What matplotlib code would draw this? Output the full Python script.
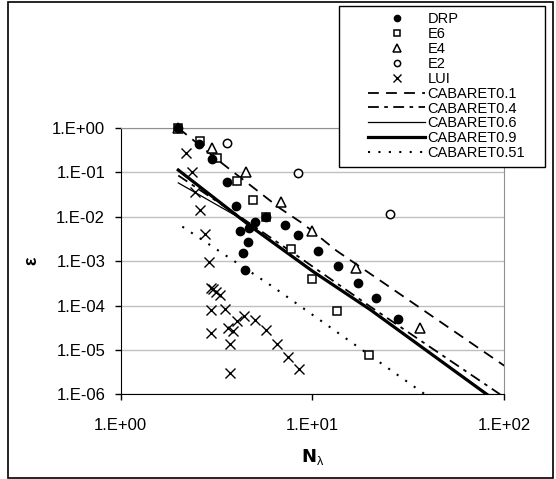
import matplotlib
matplotlib.use("Agg")
import matplotlib.pyplot as plt
from matplotlib.patches import Rectangle
from matplotlib.lines import Line2D
from matplotlib.ticker import FixedLocator, FuncFormatter, NullLocator
import numpy as np

plt.rcParams['font.family'] = ['Liberation Sans', 'DejaVu Sans']

# measured points
drp_x = [2.0, 2.55, 3.0, 3.6, 4.0, 4.2, 4.35, 4.45, 4.6, 4.7, 5.0, 5.7, 7.2, 8.4, 10.7, 13.6, 17.2, 21.4, 28.0]
drp_y = [1.0, 0.44, 0.2, 0.062, 0.0175, 0.0048, 0.0015, 0.00063, 0.0027, 0.0055, 0.0078, 0.0097, 0.0065, 0.0039,
         0.0017, 7.8e-4, 3.3e-4, 1.45e-4, 4.9e-5]
e6_x = [2.0, 2.6, 3.2, 4.05, 4.9, 5.7, 7.7, 10.0, 13.4, 19.7]
e6_y = [1.0, 0.52, 0.21, 0.065, 0.024, 0.0097, 0.0019, 4.0e-4, 7.7e-5, 7.7e-6]
e4_x = [2.0, 3.0, 4.5, 6.9, 10.0, 16.8, 36.4]
e4_y = [1.0, 0.35, 0.1, 0.021, 0.0048, 6.9e-4, 3.1e-5]
e2_x = [3.6, 8.4, 25.4]
e2_y = [0.45, 0.095, 0.0114]
lui_x = [2.2, 2.35, 2.45, 2.6, 2.75, 2.9, 2.96, 3.05, 3.15, 3.3, 2.97, 3.5, 2.97, 3.65, 3.88, 3.7, 4.03, 4.38,
         5.02, 5.72, 6.55, 7.5, 8.5, 3.72]
lui_y = [0.28, 0.1, 0.037, 0.014, 0.004, 9.5e-4, 2.5e-4, 2.3e-4, 2.0e-4, 1.75e-4, 8e-5, 8.3e-5, 2.45e-5, 3.1e-5,
         2.7e-5, 1.37e-5, 4.4e-5, 5.8e-5, 4.7e-5, 2.75e-5, 1.37e-5, 7.1e-6, 3.7e-6, 3.0e-6]

# CABARET curves
c01_x = [2.0, 3.3, 4.73, 6.78, 8.97, 13.4, 24.4, 100.0]
c01_y = [1.0, 0.174, 0.052, 0.0155, 0.0069, 0.0017, 2.9e-4, 4.4e-6]
c04_x = [2.0, 4.55, 8.6, 20.0, 95.0]
c04_y = [0.085, 0.0079, 0.0012, 9.5e-5, 1e-6]
c06_x = [2.0, 4.0, 10.0, 20.0, 82.0]
c06_y = [0.058, 0.0105, 6.0e-4, 8.0e-5, 1e-6]
c09_x = [2.0, 4.92, 10.1, 20.0, 81.0]
c09_y = [0.113, 0.0055, 5.8e-4, 8.1e-5, 1e-6]
c051_x = [2.1, 6.26, 38.6]
c051_y = [0.006, 2.6e-4, 1e-6]

fig = plt.figure(figsize=(5.56, 4.79), dpi=100)
ax = fig.add_axes([120.5 / 556, 1 - 394.3 / 479, (504.3 - 120.5) / 556, (394.3 - 128) / 479])

# name: (x, y, style kwargs)
curves = {
    'CABARET0.1': (c01_x, c01_y, dict(lw=1.3, dashes=(6, 4))),
    'CABARET0.4': (c04_x, c04_y, dict(lw=1.3, dashes=(6, 3, 2, 3))),
    'CABARET0.6': (c06_x, c06_y, dict(lw=0.9)),
    'CABARET0.9': (c09_x, c09_y, dict(lw=2.3)),
    'CABARET0.51': (c051_x, c051_y, dict(lw=1.5, dashes=(1, 4))),
}
points = {
    'DRP': (drp_x, drp_y, dict(marker='o', mfc='black', ms=6)),
    'E6': (e6_x, e6_y, dict(marker='s', mfc='white', mew=1.1, ms=6)),
    'E4': (e4_x, e4_y, dict(marker='^', mfc='white', mew=1.1, ms=7)),
    'E2': (e2_x, e2_y, dict(marker='o', mfc='white', mew=1.1, ms=6)),
    'LUI': (lui_x, lui_y, dict(marker='x', mew=1.0, ms=7)),
}

for name, (x, y, kw) in curves.items():
    ax.plot(x, y, color='black', **kw)
for name, (x, y, kw) in points.items():
    z = 4 if name == 'DRP' else 3
    ax.plot(x, y, ls='none', color='black', mec='black', clip_on=False, zorder=z, **kw)

ax.set_xscale('log')
ax.set_yscale('log')
ax.set_xlim(1, 100)
ax.set_ylim(1e-6, 1)

fmt = FuncFormatter(lambda v, _: "1.E%+03d" % int(round(np.log10(v))))
ax.xaxis.set_major_locator(FixedLocator([1, 10, 100]))
ax.yaxis.set_major_locator(FixedLocator([10.0 ** k for k in range(-6, 1)]))
ax.xaxis.set_minor_locator(NullLocator())
ax.yaxis.set_minor_locator(NullLocator())
ax.xaxis.set_major_formatter(fmt)
ax.yaxis.set_major_formatter(fmt)
ax.tick_params(axis='y', direction='out', length=4, width=1, pad=7, labelsize=12)
ax.tick_params(axis='x', direction='out', length=4, width=1, pad=13, labelsize=12)

ax.grid(axis='y', color='#c0c0c0', lw=1)
ax.set_axisbelow(True)
for s in ['top', 'right']:
    ax.spines[s].set_color('#909090')
for s in ['left', 'bottom']:
    ax.spines[s].set_color('black')

ax.set_ylabel('ε', fontsize=13, fontweight='bold')
ax.yaxis.set_label_coords(-(120.5 - 40) / (504.3 - 120.5), 0.5)
ax.set_xlabel(r'$\mathbf{N}_{\mathregular{λ}}$', fontsize=13)
ax.xaxis.set_label_coords(0.5, -(447 - 394.3) / (394.3 - 128))

# legend, markers first then curves
order = ['DRP', 'E6', 'E4', 'E2', 'LUI', 'CABARET0.1', 'CABARET0.4', 'CABARET0.6', 'CABARET0.9', 'CABARET0.51']
handles = []
for name in order:
    if name in points:
        kw = dict(points[name][2])
        kw['ms'] = kw['ms'] * 0.75
        handles.append(Line2D([], [], ls='none', color='black', mec='black', **kw))
    else:
        handles.append(Line2D([], [], color='black', **curves[name][2]))

leg = fig.legend(handles, order, loc='upper left', bbox_to_anchor=(361 / 556, 1 - 5 / 479),
                 frameon=False, fontsize=10.5, labelspacing=0.06, handlelength=3.9, handletextpad=0.15,
                 borderpad=0.0, numpoints=1)

fig.add_artist(Rectangle((339 / 556, 1 - 167 / 479), (545 - 339) / 556, (167 - 6) / 479,
                         transform=fig.transFigure, fill=True, fc='white', ec='black', lw=1, zorder=2))
leg.set_zorder(3)

# outer frame
fig.add_artist(Rectangle((8 / 556, 1.5 / 479), (553 - 8) / 556, (477.5 - 1.5) / 479,
                         transform=fig.transFigure, fill=False, ec='black', lw=1.2))

fig.savefig('out.png', dpi=100)
